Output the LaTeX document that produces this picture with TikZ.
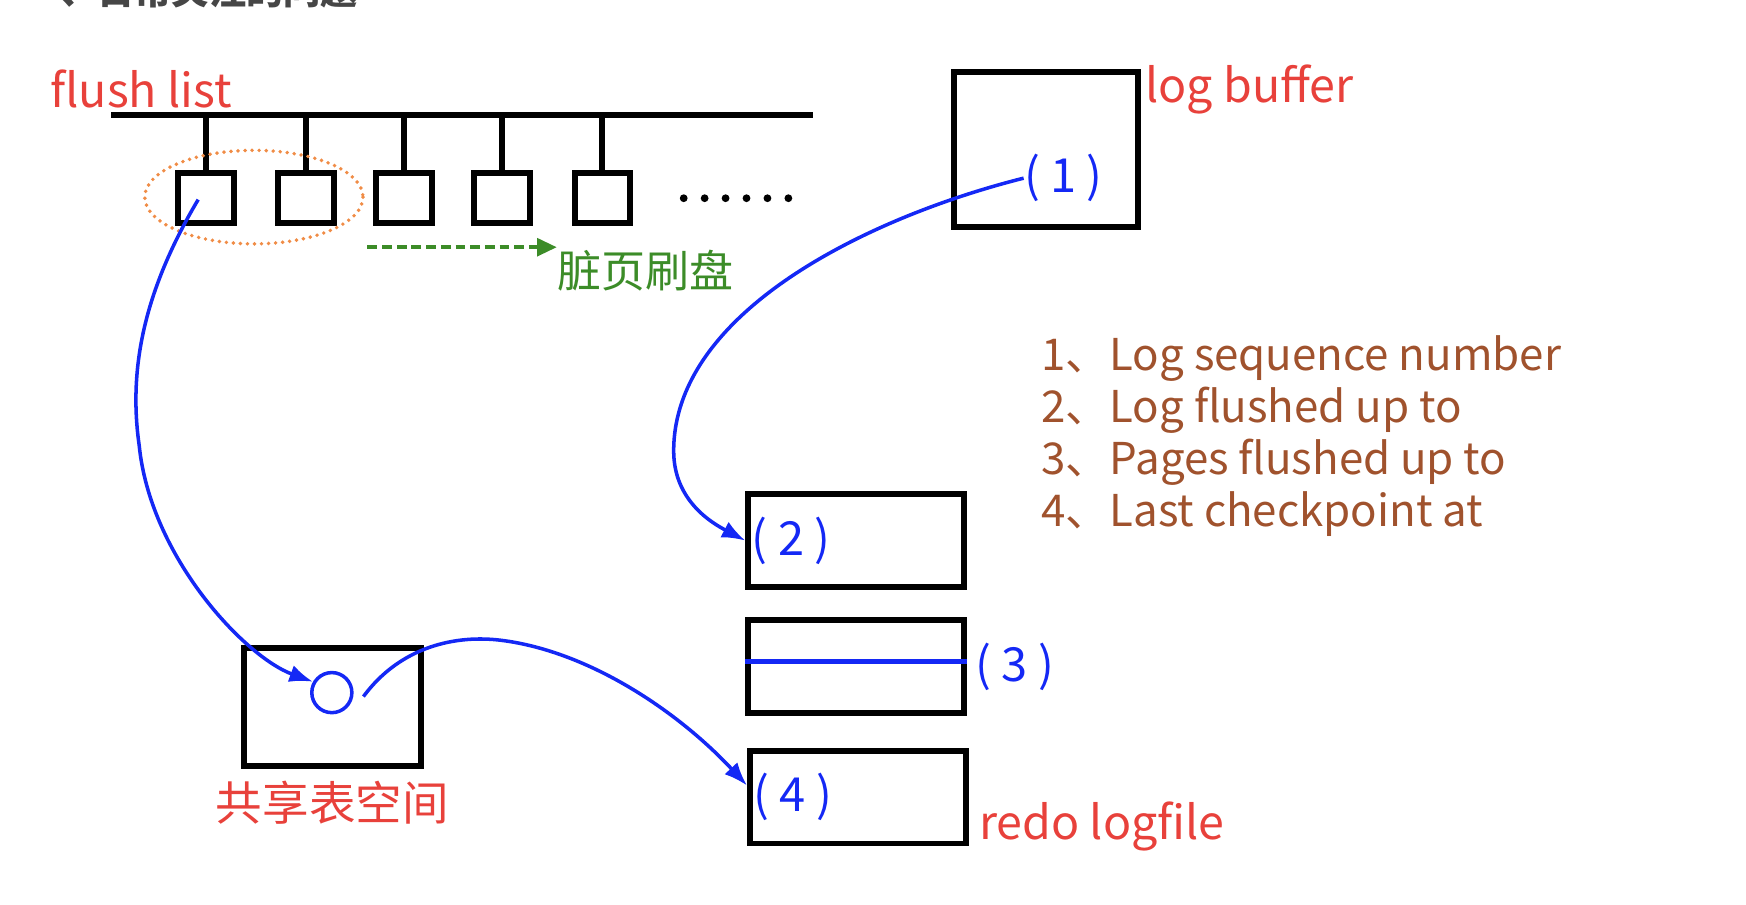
\documentclass[tikz,border=0pt]{standalone}
\usepackage{fontspec}
\setmainfont{Noto Sans CJK SC}
\usepackage{tikz}
\usetikzlibrary{arrows.meta,positioning,calc}
\definecolor{hotred}{RGB}{232,65,59}
\definecolor{lineblue}{RGB}{20,40,245}
\definecolor{dirtygreen}{RGB}{60,140,40}
\definecolor{lsnbrown}{RGB}{160,82,45}
\definecolor{ellorange}{RGB}{240,140,70}
\definecolor{titlegray}{RGB}{70,70,70}

\begin{document}
\begin{tikzpicture}[x=0.02cm,y=-0.02cm,
  blk/.style={draw=black,line width=3pt},
  pagebox/.style={blk,minimum width=1cm,minimum height=0.9cm,inner sep=0pt},
  filebox/.style={blk,minimum width=3.88cm,minimum height=1.66cm,inner sep=0pt},
  blu/.style={draw=lineblue,line width=1.8pt},
  blutip/.style={blu,-{Latex[length=12pt,width=9pt]}},
  redtxt/.style={text=hotred,font=\fontsize{23.8}{27}\selectfont,inner sep=0pt},
  numtxt/.style={text=lineblue,font=\fontsize{24}{27}\selectfont,inner sep=0pt}]
\useasboundingbox (0,0) rectangle (1568,812);
\node[anchor=west,text=titlegray,font=\fontsize{19}{22}\selectfont\bfseries] (title) at (48,-9) {、日常关注的问题};
\node[redtxt,anchor=west] (flushtxt) at (45,80) {flush list};
\coordinate (barL) at (100,103);
\coordinate (barR) at (730,103);
\draw[blk] (barL) -- (barR);
\foreach \i/\x in {1/185,2/275,3/363,4/451,5/541}{
  \node[pagebox] (p\i) at (\x,177.5) {};
  \draw[blk] (p\i.north) -- (p\i.north |- barL);
}
\foreach \k in {0,...,5}
  \fill (614+\k*18.8,178) circle (3.5);
\draw[draw=ellorange,line width=2pt,line cap=round,dash pattern=on 0pt off 3.6pt] (228,177) ellipse (98 and 42);
\node[anchor=north west,text=dirtygreen,font=\fontsize{22.5}{26}\selectfont,inner sep=0pt] (dirty) at (500,224) {脏页刷盘};
\coordinate (dstart) at (330,222);
\draw[draw=dirtygreen,line width=1.8pt,dash pattern=on 5pt off 2.5pt,-{Triangle[length=10pt,width=9pt]}] (dstart) -- (dstart -| dirty.west);

\node[blk,minimum width=3.3cm,minimum height=2.78cm,inner sep=0pt] (logbuf) at (939.5,134.5) {};
\node[redtxt,anchor=west] (logbuftxt) at (1028,80) {log buffer};
\node[numtxt] (n1) at (955,160) {( 1 )};

\node[anchor=west,align=left,text=lsnbrown,font=\fontsize{22.4}{26.6}\selectfont,inner sep=0pt] (lsn) at (935,392) {1、Log sequence number\\2、Log flushed up to\\3、Pages flushed up to\\4、Last checkpoint at};

\node[filebox] (r2) at (769,485.5) {};
\node[filebox] (r3) at (769,598.5) {};
\node[filebox] (r4) at (770.5,716) {};
\draw[blu,line width=2.6pt] ([yshift=2.5pt]r3.west) -- ([yshift=2.5pt]r3.east);
\node[numtxt,right=3pt of r2.west] (n2) {( 2 )};
\node[numtxt,right=4pt of r3.east] (n3) {( 3 )};
\node[numtxt,right=3pt of r4.west] (n4) {( 4 )};
\node[redtxt,anchor=west] (redo) at ([xshift=5pt,yshift=10pt]r4.south east) {redo logfile};

\node[blk,minimum width=3.18cm,minimum height=2.12cm,inner sep=0pt] (shared) at (298.5,635) {};
\node[blu,circle,minimum size=0.72cm,inner sep=0pt] (circ) at (298,622) {};
\node[redtxt,below=6pt of shared] (sharedtxt) {共享表空间};

\draw[blutip] (n1.west) .. controls (780,195) and (605,280) .. (605,405) .. controls (605,450) and (640,470) .. (r2.west);
\draw[blutip] ([xshift=-4pt,yshift=-1pt]p1.center) .. controls (130,260) and (115,330) .. (125,400) .. controls (135,500) and (220,590) .. (circ.150);
\draw[blutip] ([xshift=5pt,yshift=-2pt]circ.east) .. controls (360,580) and (410,570) .. (450,575) .. controls (530,585) and (610,640) .. ([yshift=6pt]r4.west);
\end{tikzpicture}
\end{document}
